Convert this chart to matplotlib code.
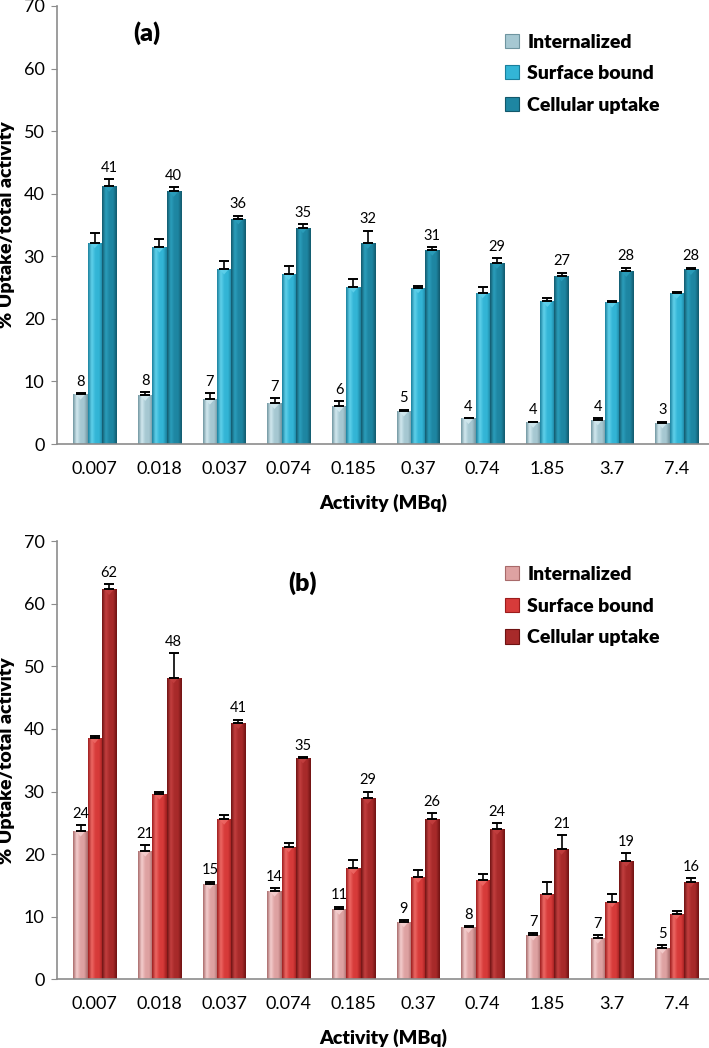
import numpy as np
import matplotlib
matplotlib.use('Agg')
import matplotlib.pyplot as plt
from matplotlib.colors import LinearSegmentedColormap
from matplotlib.patches import Patch, Polygon

plt.rcParams['font.family'] = ['Lato', 'DejaVu Sans']

activity = ['0.007', '0.018', '0.037', '0.074', '0.185', '0.37', '0.74', '1.85', '3.7', '7.4']
series_names = ['Internalized', 'Surface bound', 'Cellular uptake']

# panel (a)
a_internal = [8.0, 7.8, 7.2, 6.5, 6.0, 5.3, 4.1, 3.5, 3.9, 3.4]
a_internal_err = [0.1, 0.5, 1.0, 0.8, 0.8, 0.2, 0.1, 0.1, 0.2, 0.2]
a_surface = [32.2, 31.5, 28.0, 27.1, 25.1, 25.0, 24.2, 22.8, 22.7, 24.1]
a_surface_err = [1.6, 1.3, 1.3, 1.3, 1.2, 0.3, 0.9, 0.6, 0.1, 0.2]
a_cellular = [41.2, 40.4, 36.0, 34.6, 32.1, 31.0, 28.9, 26.9, 27.6, 27.9]
a_cellular_err = [1.2, 0.7, 0.5, 0.6, 2.0, 0.5, 0.8, 0.5, 0.6, 0.3]
a_labels = [['8', '8', '7', '7', '6', '5', '4', '4', '4', '3'],
            None,
            ['41', '40', '36', '35', '32', '31', '29', '27', '28', '28']]

# panel (b)
b_internal = [23.7, 20.5, 15.3, 14.1, 11.2, 9.2, 8.3, 7.1, 6.6, 5.0]
b_internal_err = [1.0, 1.0, 0.3, 0.5, 0.4, 0.3, 0.2, 0.3, 0.4, 0.5]
b_surface = [38.6, 29.6, 25.6, 21.2, 17.7, 16.3, 15.8, 13.6, 12.4, 10.5]
b_surface_err = [0.3, 0.4, 0.7, 0.6, 1.4, 1.2, 1.0, 2.0, 1.3, 0.4]
b_cellular = [62.3, 48.2, 40.9, 35.4, 28.9, 25.6, 24.0, 20.8, 18.9, 15.6]
b_cellular_err = [0.8, 3.9, 0.6, 0.1, 1.1, 1.0, 1.0, 2.2, 1.2, 0.6]
b_labels = [['24', '21', '15', '14', '11', '9', '8', '7', '7', '5'],
            None,
            ['62', '48', '41', '35', '29', '26', '24', '21', '19', '16']]

# (dark edge, light, base) per series
a_colors = [('#6f95a0', '#d4eaf0', '#a6c8d2'),
            ('#1a7f9c', '#62d2ec', '#33b5d6'),
            ('#12586b', '#2b9fbc', '#1e86a2')]
b_colors = [('#a86a6a', '#f5d0d0', '#dea2a2'),
            ('#9c1c1c', '#ee6a66', '#d73b3a'),
            ('#6e1212', '#c44040', '#a82a2a')]

fig = plt.figure(figsize=(7.09, 10.48), dpi=100)
ax_a = fig.add_axes([0.0804, 0.5763, 0.9196, 0.418])
ax_b = fig.add_axes([0.0804, 0.0656, 0.9196, 0.418])

x = np.arange(len(activity))
w = 0.22
BOLD = 'heavy'


def shaded_bars(ax, xs, vals, cols):
    dark, light, base = cols
    cmap = LinearSegmentedColormap.from_list('c', [dark, light, base, base, dark])
    grad = np.linspace(0, 1, 64).reshape(1, -1)
    bars = ax.bar(xs, vals, w, color=base, edgecolor='none', zorder=2)
    for b in bars:
        x0 = b.get_x()
        bw = b.get_width()
        h = b.get_height()
        im = ax.imshow(grad, extent=[x0, x0 + bw, 0, h],
                       aspect='auto', cmap=cmap, zorder=2.5, interpolation='bicubic')
        im.set_clip_path(b)
        # small light cap like the 3D bevel on top of each bar
        cap = Polygon([[x0 + bw * 0.15, h], [x0 + bw * 0.85, h], [x0 + bw * 0.5, h - 0.9]],
                      closed=True, facecolor=light, edgecolor='none', alpha=0.85, zorder=2.6)
        ax.add_patch(cap)
    return bars


def panel(ax, vals, errs, labels, cols, tag, tag_xy, leg_y):
    for k in range(3):
        xs = x + (k - 1) * w
        shaded_bars(ax, xs, vals[k], cols[k])
        ax.errorbar(xs, vals[k], yerr=[np.zeros(len(x)), errs[k]], fmt='none',
                    ecolor='black', elinewidth=1.2, capsize=3.4, capthick=1.4, zorder=3)
        if labels[k] is not None:
            for xi, v, e, t in zip(xs, vals[k], errs[k], labels[k]):
                ax.annotate(t, (xi, v + e), xytext=(0, 3), textcoords='offset points',
                            ha='center', va='bottom', fontsize=10.5)
    ax.set_xlim(-0.585, 9.5)
    ax.set_ylim(0, 70)
    ax.set_yticks(range(0, 71, 10))
    ax.set_xticks(x)
    ax.set_xticklabels(activity)
    ax.tick_params(axis='x', length=0, pad=12, labelsize=13)
    ax.tick_params(axis='y', length=4, color='#8c8c8c', labelsize=13, pad=5)
    for s in ['top', 'right']:
        ax.spines[s].set_visible(False)
    for s in ['left', 'bottom']:
        ax.spines[s].set_color('#8c8c8c')
        ax.spines[s].set_linewidth(1.2)
    ax.set_ylabel('% Uptake/total activity', fontsize=14, fontweight=BOLD, labelpad=6)
    ax.set_xlabel('Activity (MBq)', fontsize=14, fontweight=BOLD, labelpad=12)
    ax.text(tag_xy[0], tag_xy[1], tag, transform=ax.transAxes, fontsize=18,
            fontweight=BOLD, ha='center', va='center')
    handles = [Patch(facecolor=c[2], edgecolor=c[0], linewidth=0.8) for c in cols]
    ax.legend(handles, series_names, loc='upper left', bbox_to_anchor=(0.66, leg_y),
              frameon=False, prop={'weight': BOLD, 'size': 14},
              handlelength=0.75, handleheight=0.75, handletextpad=0.4, labelspacing=0.75)


panel(ax_a, [a_internal, a_surface, a_cellular],
      [a_internal_err, a_surface_err, a_cellular_err], a_labels, a_colors, '(a)',
      (0.138, 0.938), 0.977)
panel(ax_b, [b_internal, b_surface, b_cellular],
      [b_internal_err, b_surface_err, b_cellular_err], b_labels, b_colors, '(b)',
      (0.376, 0.905), 0.983)

fig.savefig('out.png', dpi=100)
